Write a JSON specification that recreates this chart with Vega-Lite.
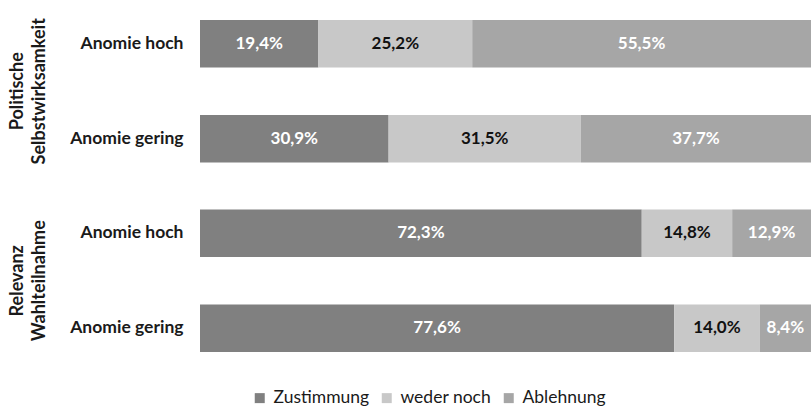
{
  "$schema": "https://vega.github.io/schema/vega-lite/v6.json",
  "autosize": {"type": "pad"},
  "padding": {"left": 8, "top": 18, "right": 0, "bottom": 0},
  "data": {"values": [
    {"group": "Politische Selbstwirksamkeit", "anomie": "Anomie hoch", "resp": "Zustimmung", "value": 19.4},
    {"group": "Politische Selbstwirksamkeit", "anomie": "Anomie hoch", "resp": "weder noch", "value": 25.2},
    {"group": "Politische Selbstwirksamkeit", "anomie": "Anomie hoch", "resp": "Ablehnung", "value": 55.5},
    {"group": "Politische Selbstwirksamkeit", "anomie": "Anomie gering", "resp": "Zustimmung", "value": 30.9},
    {"group": "Politische Selbstwirksamkeit", "anomie": "Anomie gering", "resp": "weder noch", "value": 31.5},
    {"group": "Politische Selbstwirksamkeit", "anomie": "Anomie gering", "resp": "Ablehnung", "value": 37.7},
    {"group": "Relevanz Wahlteilnahme", "anomie": "Anomie hoch", "resp": "Zustimmung", "value": 72.3},
    {"group": "Relevanz Wahlteilnahme", "anomie": "Anomie hoch", "resp": "weder noch", "value": 14.8},
    {"group": "Relevanz Wahlteilnahme", "anomie": "Anomie hoch", "resp": "Ablehnung", "value": 12.9},
    {"group": "Relevanz Wahlteilnahme", "anomie": "Anomie gering", "resp": "Zustimmung", "value": 77.6},
    {"group": "Relevanz Wahlteilnahme", "anomie": "Anomie gering", "resp": "weder noch", "value": 14.0},
    {"group": "Relevanz Wahlteilnahme", "anomie": "Anomie gering", "resp": "Ablehnung", "value": 8.4}
  ]},
  "transform": [
    {"calculate": "indexof(['Zustimmung','weder noch','Ablehnung'], datum.resp)", "as": "ord"},
    {"stack": "value", "groupby": ["group", "anomie"], "sort": [{"field": "ord", "order": "ascending"}], "as": ["x0", "x1"], "offset": "normalize"},
    {"calculate": "(datum.x0 + datum.x1) / 2", "as": "xm"},
    {"calculate": "replace(format(datum.value, '.1f'), '.', ',') + '%'", "as": "label"}
  ],
  "facet": {
    "row": {
      "field": "group",
      "type": "nominal",
      "sort": ["Politische Selbstwirksamkeit", "Relevanz Wahlteilnahme"],
      "header": {
        "title": null,
        "labelAngle": -90,
        "labelOrient": "left",
        "labelExpr": "split(datum.value, ' ')",
        "labelFont": "Lato",
        "labelFontWeight": "bold",
        "labelFontSize": 18,
        "labelColor": "#1a1a1a",
        "labelLineHeight": 22,
        "labelPadding": 12
      }
    }
  },
  "spacing": {"row": 46.5},
  "spec": {
    "width": 611,
    "height": 142.5,
    "encoding": {
      "y": {
        "field": "anomie",
        "type": "nominal",
        "sort": ["Anomie hoch", "Anomie gering"],
        "scale": {"paddingInner": 0.5, "paddingOuter": 0},
        "axis": {
          "title": null,
          "domain": false,
          "ticks": false,
          "labelPadding": 17,
          "labelFont": "Lato",
          "labelFontWeight": "bold",
          "labelFontSize": 17.5,
          "labelColor": "#1a1a1a"
        }
      }
    },
    "layer": [
      {
        "mark": {"type": "bar"},
        "encoding": {
          "x": {"field": "x0", "type": "quantitative", "scale": {"domain": [0, 1], "nice": false, "zero": false}, "axis": null},
          "x2": {"field": "x1"},
          "color": {
            "field": "resp",
            "type": "nominal",
            "sort": ["Zustimmung", "weder noch", "Ablehnung"],
            "scale": {"domain": ["Zustimmung", "weder noch", "Ablehnung"], "range": ["#808080", "#c8c8c8", "#a6a6a6"]},
            "legend": {
              "title": null,
              "orient": "none",
              "direction": "horizontal",
              "legendX": 51,
              "legendY": 369,
              "symbolType": "square",
              "symbolSize": 100,
              "symbolStrokeWidth": 0,
              "symbolOpacity": 1,
              "labelFont": "Lato",
              "labelFontSize": 17.5,
              "labelColor": "#1a1a1a",
              "labelOffset": 5,
              "columnPadding": 8
            }
          }
        }
      },
      {
        "mark": {"type": "text", "font": "Lato", "fontWeight": "bold", "fontSize": 17, "baseline": "middle", "align": "center"},
        "encoding": {
          "x": {"field": "xm", "type": "quantitative"},
          "text": {"field": "label"},
          "color": {"condition": {"test": "datum.resp === 'weder noch'", "value": "#111111"}, "value": "#ffffff"}
        }
      }
    ]
  },
  "config": {"view": {"stroke": null}}
}
